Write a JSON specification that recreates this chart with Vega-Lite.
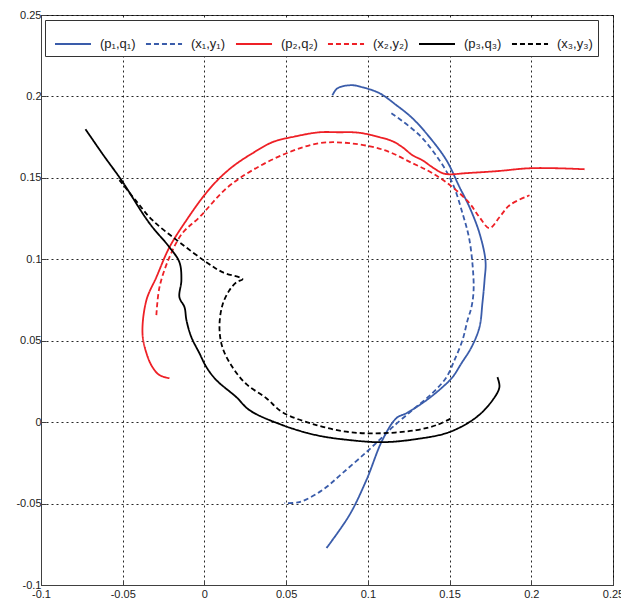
{
  "$schema": "https://vega.github.io/schema/vega-lite/v6.json",
  "width": 572,
  "height": 570,
  "autosize": {"type": "none"},
  "padding": {"left": 41, "top": 15, "right": 8, "bottom": 20},
  "background": "white",
  "config": {
    "view": {"stroke": "#404040", "strokeWidth": 1},
    "font": "Liberation Sans",
    "axis": {
      "grid": true,
      "gridColor": "#000",
      "gridDash": [2, 3],
      "gridOpacity": 0.85,
      "gridWidth": 1,
      "domainColor": "#404040",
      "tickColor": "#404040",
      "tickSize": -5,
      "labelFont": "Liberation Sans",
      "labelFontSize": 11,
      "labelColor": "#222",
      "title": null
    }
  },
  "data": {
    "values": [
      {"s": "(p₁,q₁)", "i": 1, "x": 0.0783, "y": 0.2007},
      {"s": "(p₁,q₁)", "i": 2, "x": 0.0814, "y": 0.2050},
      {"s": "(p₁,q₁)", "i": 3, "x": 0.0900, "y": 0.2069},
      {"s": "(p₁,q₁)", "i": 4, "x": 0.0967, "y": 0.2056},
      {"s": "(p₁,q₁)", "i": 5, "x": 0.1071, "y": 0.2020},
      {"s": "(p₁,q₁)", "i": 6, "x": 0.1175, "y": 0.1946},
      {"s": "(p₁,q₁)", "i": 7, "x": 0.1273, "y": 0.1866},
      {"s": "(p₁,q₁)", "i": 8, "x": 0.1377, "y": 0.1750},
      {"s": "(p₁,q₁)", "i": 9, "x": 0.1481, "y": 0.1608},
      {"s": "(p₁,q₁)", "i": 10, "x": 0.1561, "y": 0.1443},
      {"s": "(p₁,q₁)", "i": 11, "x": 0.1622, "y": 0.1320},
      {"s": "(p₁,q₁)", "i": 12, "x": 0.1683, "y": 0.1160},
      {"s": "(p₁,q₁)", "i": 13, "x": 0.1720, "y": 0.0988},
      {"s": "(p₁,q₁)", "i": 14, "x": 0.1714, "y": 0.0872},
      {"s": "(p₁,q₁)", "i": 15, "x": 0.1701, "y": 0.0731},
      {"s": "(p₁,q₁)", "i": 16, "x": 0.1683, "y": 0.0583},
      {"s": "(p₁,q₁)", "i": 17, "x": 0.1634, "y": 0.0460},
      {"s": "(p₁,q₁)", "i": 18, "x": 0.1573, "y": 0.0362},
      {"s": "(p₁,q₁)", "i": 19, "x": 0.1518, "y": 0.0276},
      {"s": "(p₁,q₁)", "i": 20, "x": 0.1457, "y": 0.0215},
      {"s": "(p₁,q₁)", "i": 21, "x": 0.1359, "y": 0.0135},
      {"s": "(p₁,q₁)", "i": 22, "x": 0.1236, "y": 0.0055},
      {"s": "(p₁,q₁)", "i": 23, "x": 0.1175, "y": 0.0025},
      {"s": "(p₁,q₁)", "i": 24, "x": 0.1089, "y": -0.0110},
      {"s": "(p₁,q₁)", "i": 25, "x": 0.0991, "y": -0.0356},
      {"s": "(p₁,q₁)", "i": 26, "x": 0.0887, "y": -0.0571},
      {"s": "(p₁,q₁)", "i": 27, "x": 0.0747, "y": -0.0773},

      {"s": "(x₁,y₁)", "i": 1, "x": 0.1144, "y": 0.1897},
      {"s": "(x₁,y₁)", "i": 2, "x": 0.1316, "y": 0.1762},
      {"s": "(x₁,y₁)", "i": 3, "x": 0.1438, "y": 0.1608},
      {"s": "(x₁,y₁)", "i": 4, "x": 0.1518, "y": 0.1467},
      {"s": "(x₁,y₁)", "i": 5, "x": 0.1579, "y": 0.1283},
      {"s": "(x₁,y₁)", "i": 6, "x": 0.1622, "y": 0.1117},
      {"s": "(x₁,y₁)", "i": 7, "x": 0.1646, "y": 0.0890},
      {"s": "(x₁,y₁)", "i": 8, "x": 0.1646, "y": 0.0792},
      {"s": "(x₁,y₁)", "i": 9, "x": 0.1634, "y": 0.0706},
      {"s": "(x₁,y₁)", "i": 10, "x": 0.1610, "y": 0.0626},
      {"s": "(x₁,y₁)", "i": 11, "x": 0.1579, "y": 0.0503},
      {"s": "(x₁,y₁)", "i": 12, "x": 0.1530, "y": 0.0381},
      {"s": "(x₁,y₁)", "i": 13, "x": 0.1481, "y": 0.0276},
      {"s": "(x₁,y₁)", "i": 14, "x": 0.1395, "y": 0.0178},
      {"s": "(x₁,y₁)", "i": 15, "x": 0.1273, "y": 0.0074},
      {"s": "(x₁,y₁)", "i": 16, "x": 0.1151, "y": -0.0031},
      {"s": "(x₁,y₁)", "i": 17, "x": 0.1089, "y": -0.0092},
      {"s": "(x₁,y₁)", "i": 18, "x": 0.0991, "y": -0.0184},
      {"s": "(x₁,y₁)", "i": 19, "x": 0.0845, "y": -0.0313},
      {"s": "(x₁,y₁)", "i": 20, "x": 0.0722, "y": -0.0417},
      {"s": "(x₁,y₁)", "i": 21, "x": 0.0581, "y": -0.0491},
      {"s": "(x₁,y₁)", "i": 22, "x": 0.0490, "y": -0.0497},

      {"s": "(p₂,q₂)", "i": 1, "x": -0.0214, "y": 0.0270},
      {"s": "(p₂,q₂)", "i": 2, "x": -0.0275, "y": 0.0289},
      {"s": "(p₂,q₂)", "i": 3, "x": -0.0318, "y": 0.0338},
      {"s": "(p₂,q₂)", "i": 4, "x": -0.0355, "y": 0.0424},
      {"s": "(p₂,q₂)", "i": 5, "x": -0.0379, "y": 0.0546},
      {"s": "(p₂,q₂)", "i": 6, "x": -0.0355, "y": 0.0749},
      {"s": "(p₂,q₂)", "i": 7, "x": -0.0294, "y": 0.0890},
      {"s": "(p₂,q₂)", "i": 8, "x": -0.0214, "y": 0.1074},
      {"s": "(p₂,q₂)", "i": 9, "x": -0.0110, "y": 0.1240},
      {"s": "(p₂,q₂)", "i": 10, "x": 0.0000, "y": 0.1394},
      {"s": "(p₂,q₂)", "i": 11, "x": 0.0092, "y": 0.1498},
      {"s": "(p₂,q₂)", "i": 12, "x": 0.0184, "y": 0.1578},
      {"s": "(p₂,q₂)", "i": 13, "x": 0.0294, "y": 0.1651},
      {"s": "(p₂,q₂)", "i": 14, "x": 0.0416, "y": 0.1719},
      {"s": "(p₂,q₂)", "i": 15, "x": 0.0563, "y": 0.1756},
      {"s": "(p₂,q₂)", "i": 16, "x": 0.0704, "y": 0.1780},
      {"s": "(p₂,q₂)", "i": 17, "x": 0.0826, "y": 0.1780},
      {"s": "(p₂,q₂)", "i": 18, "x": 0.0906, "y": 0.1780},
      {"s": "(p₂,q₂)", "i": 19, "x": 0.0967, "y": 0.1774},
      {"s": "(p₂,q₂)", "i": 20, "x": 0.1071, "y": 0.1750},
      {"s": "(p₂,q₂)", "i": 21, "x": 0.1151, "y": 0.1725},
      {"s": "(p₂,q₂)", "i": 22, "x": 0.1212, "y": 0.1688},
      {"s": "(p₂,q₂)", "i": 23, "x": 0.1273, "y": 0.1639},
      {"s": "(p₂,q₂)", "i": 24, "x": 0.1334, "y": 0.1608},
      {"s": "(p₂,q₂)", "i": 25, "x": 0.1395, "y": 0.1565},
      {"s": "(p₂,q₂)", "i": 26, "x": 0.1457, "y": 0.1529},
      {"s": "(p₂,q₂)", "i": 27, "x": 0.1499, "y": 0.1522},
      {"s": "(p₂,q₂)", "i": 28, "x": 0.1603, "y": 0.1529},
      {"s": "(p₂,q₂)", "i": 29, "x": 0.1787, "y": 0.1541},
      {"s": "(p₂,q₂)", "i": 30, "x": 0.1989, "y": 0.1559},
      {"s": "(p₂,q₂)", "i": 31, "x": 0.2154, "y": 0.1559},
      {"s": "(p₂,q₂)", "i": 32, "x": 0.2326, "y": 0.1553},

      {"s": "(x₂,y₂)", "i": 1, "x": -0.0294, "y": 0.0657},
      {"s": "(x₂,y₂)", "i": 2, "x": -0.0275, "y": 0.0829},
      {"s": "(x₂,y₂)", "i": 3, "x": -0.0214, "y": 0.1013},
      {"s": "(x₂,y₂)", "i": 4, "x": -0.0135, "y": 0.1160},
      {"s": "(x₂,y₂)", "i": 5, "x": -0.0031, "y": 0.1258},
      {"s": "(x₂,y₂)", "i": 6, "x": 0.0135, "y": 0.1436},
      {"s": "(x₂,y₂)", "i": 7, "x": 0.0294, "y": 0.1547},
      {"s": "(x₂,y₂)", "i": 8, "x": 0.0502, "y": 0.1651},
      {"s": "(x₂,y₂)", "i": 9, "x": 0.0704, "y": 0.1713},
      {"s": "(x₂,y₂)", "i": 10, "x": 0.0887, "y": 0.1713},
      {"s": "(x₂,y₂)", "i": 11, "x": 0.1102, "y": 0.1670},
      {"s": "(x₂,y₂)", "i": 12, "x": 0.1273, "y": 0.1590},
      {"s": "(x₂,y₂)", "i": 13, "x": 0.1395, "y": 0.1529},
      {"s": "(x₂,y₂)", "i": 14, "x": 0.1518, "y": 0.1443},
      {"s": "(x₂,y₂)", "i": 15, "x": 0.1622, "y": 0.1344},
      {"s": "(x₂,y₂)", "i": 16, "x": 0.1683, "y": 0.1258},
      {"s": "(x₂,y₂)", "i": 17, "x": 0.1744, "y": 0.1191},
      {"s": "(x₂,y₂)", "i": 18, "x": 0.1805, "y": 0.1258},
      {"s": "(x₂,y₂)", "i": 19, "x": 0.1867, "y": 0.1332},
      {"s": "(x₂,y₂)", "i": 20, "x": 0.1989, "y": 0.1393},

      {"s": "(p₃,q₃)", "i": 1, "x": -0.0728, "y": 0.1799},
      {"s": "(p₃,q₃)", "i": 2, "x": -0.0618, "y": 0.1639},
      {"s": "(p₃,q₃)", "i": 3, "x": -0.0508, "y": 0.1486},
      {"s": "(p₃,q₃)", "i": 4, "x": -0.0337, "y": 0.1222},
      {"s": "(p₃,q₃)", "i": 5, "x": -0.0214, "y": 0.1074},
      {"s": "(p₃,q₃)", "i": 6, "x": -0.0153, "y": 0.0982},
      {"s": "(p₃,q₃)", "i": 7, "x": -0.0141, "y": 0.0872},
      {"s": "(p₃,q₃)", "i": 8, "x": -0.0153, "y": 0.0767},
      {"s": "(p₃,q₃)", "i": 9, "x": -0.0122, "y": 0.0706},
      {"s": "(p₃,q₃)", "i": 10, "x": -0.0110, "y": 0.0626},
      {"s": "(p₃,q₃)", "i": 11, "x": -0.0080, "y": 0.0522},
      {"s": "(p₃,q₃)", "i": 12, "x": -0.0031, "y": 0.0424},
      {"s": "(p₃,q₃)", "i": 13, "x": 0.0012, "y": 0.0338},
      {"s": "(p₃,q₃)", "i": 14, "x": 0.0073, "y": 0.0258},
      {"s": "(p₃,q₃)", "i": 15, "x": 0.0196, "y": 0.0153},
      {"s": "(p₃,q₃)", "i": 16, "x": 0.0275, "y": 0.0074},
      {"s": "(p₃,q₃)", "i": 17, "x": 0.0477, "y": -0.0018},
      {"s": "(p₃,q₃)", "i": 18, "x": 0.0685, "y": -0.0080},
      {"s": "(p₃,q₃)", "i": 19, "x": 0.0887, "y": -0.0110},
      {"s": "(p₃,q₃)", "i": 20, "x": 0.1089, "y": -0.0123},
      {"s": "(p₃,q₃)", "i": 21, "x": 0.1297, "y": -0.0104},
      {"s": "(p₃,q₃)", "i": 22, "x": 0.1499, "y": -0.0061},
      {"s": "(p₃,q₃)", "i": 23, "x": 0.1665, "y": 0.0031},
      {"s": "(p₃,q₃)", "i": 24, "x": 0.1763, "y": 0.0135},
      {"s": "(p₃,q₃)", "i": 25, "x": 0.1805, "y": 0.0215},
      {"s": "(p₃,q₃)", "i": 26, "x": 0.1793, "y": 0.0276},

      {"s": "(x₃,y₃)", "i": 1, "x": -0.0520, "y": 0.1486},
      {"s": "(x₃,y₃)", "i": 2, "x": -0.0422, "y": 0.1363},
      {"s": "(x₃,y₃)", "i": 3, "x": -0.0318, "y": 0.1240},
      {"s": "(x₃,y₃)", "i": 4, "x": -0.0153, "y": 0.1105},
      {"s": "(x₃,y₃)", "i": 5, "x": 0.0012, "y": 0.0982},
      {"s": "(x₃,y₃)", "i": 6, "x": 0.0110, "y": 0.0921},
      {"s": "(x₃,y₃)", "i": 7, "x": 0.0233, "y": 0.0878},
      {"s": "(x₃,y₃)", "i": 8, "x": 0.0196, "y": 0.0859},
      {"s": "(x₃,y₃)", "i": 9, "x": 0.0153, "y": 0.0810},
      {"s": "(x₃,y₃)", "i": 10, "x": 0.0110, "y": 0.0718},
      {"s": "(x₃,y₃)", "i": 11, "x": 0.0092, "y": 0.0583},
      {"s": "(x₃,y₃)", "i": 12, "x": 0.0110, "y": 0.0460},
      {"s": "(x₃,y₃)", "i": 13, "x": 0.0171, "y": 0.0338},
      {"s": "(x₃,y₃)", "i": 14, "x": 0.0257, "y": 0.0233},
      {"s": "(x₃,y₃)", "i": 15, "x": 0.0379, "y": 0.0147},
      {"s": "(x₃,y₃)", "i": 16, "x": 0.0477, "y": 0.0061},
      {"s": "(x₃,y₃)", "i": 17, "x": 0.0685, "y": -0.0018},
      {"s": "(x₃,y₃)", "i": 18, "x": 0.0887, "y": -0.0061},
      {"s": "(x₃,y₃)", "i": 19, "x": 0.1089, "y": -0.0068},
      {"s": "(x₃,y₃)", "i": 20, "x": 0.1297, "y": -0.0049},
      {"s": "(x₃,y₃)", "i": 21, "x": 0.1420, "y": -0.0018},
      {"s": "(x₃,y₃)", "i": 22, "x": 0.1512, "y": 0.0025}
    ]
  },
  "mark": {"type": "line", "strokeWidth": 1.8, "clip": true, "interpolate": "catmull-rom"},
  "encoding": {
    "x": {
      "field": "x", "type": "quantitative",
      "scale": {"domain": [-0.1, 0.25], "nice": false, "zero": false},
      "axis": {"values": [-0.1, -0.05, 0, 0.05, 0.1, 0.15, 0.2, 0.25], "labelExpr": "'' + datum.value", "labelPadding": 8, "labelFlush": false}
    },
    "y": {
      "field": "y", "type": "quantitative",
      "scale": {"domain": [-0.1, 0.25], "nice": false, "zero": false},
      "axis": {"values": [-0.1, -0.05, 0, 0.05, 0.1, 0.15, 0.2, 0.25], "labelExpr": "'' + datum.value", "labelPadding": 5, "labelFlush": false}
    },
    "order": {"field": "i", "type": "quantitative"},
    "color": {
      "field": "s", "type": "nominal",
      "scale": {
        "domain": ["(p₁,q₁)", "(x₁,y₁)", "(p₂,q₂)", "(x₂,y₂)", "(p₃,q₃)", "(x₃,y₃)"],
        "range": ["#3a5caa", "#3a5caa", "#ee2026", "#ee2026", "#000000", "#000000"]
      },
      "legend": {
        "title": null,
        "orient": "none",
        "legendX": 4,
        "legendY": 5,
        "direction": "horizontal",
        "columns": 6,
        "symbolType": "stroke",
        "symbolSize": 1300,
        "symbolStrokeWidth": 1.8,
        "symbolOffset": 4,
        "labelFont": "Liberation Sans",
        "labelFontSize": 13,
        "labelColor": "#222",
        "labelOffset": 8,
        "columnPadding": 5,
        "padding": 5,
        "strokeColor": "#333",
        "fillColor": "white"
      }
    },
    "strokeDash": {
      "field": "s", "type": "nominal",
      "scale": {
        "domain": ["(p₁,q₁)", "(x₁,y₁)", "(p₂,q₂)", "(x₂,y₂)", "(p₃,q₃)", "(x₃,y₃)"],
        "range": [[1, 0], [5, 3], [1, 0], [5, 3], [1, 0], [5, 3]]
      },
      "legend": {
        "title": null,
        "orient": "none",
        "legendX": 4,
        "legendY": 5,
        "direction": "horizontal",
        "columns": 6,
        "symbolType": "stroke",
        "symbolSize": 1300,
        "symbolStrokeWidth": 1.8,
        "symbolOffset": 4,
        "labelFont": "Liberation Sans",
        "labelFontSize": 13,
        "labelColor": "#222",
        "labelOffset": 8,
        "columnPadding": 5,
        "padding": 5,
        "strokeColor": "#333",
        "fillColor": "white"
      }
    }
  }
}
